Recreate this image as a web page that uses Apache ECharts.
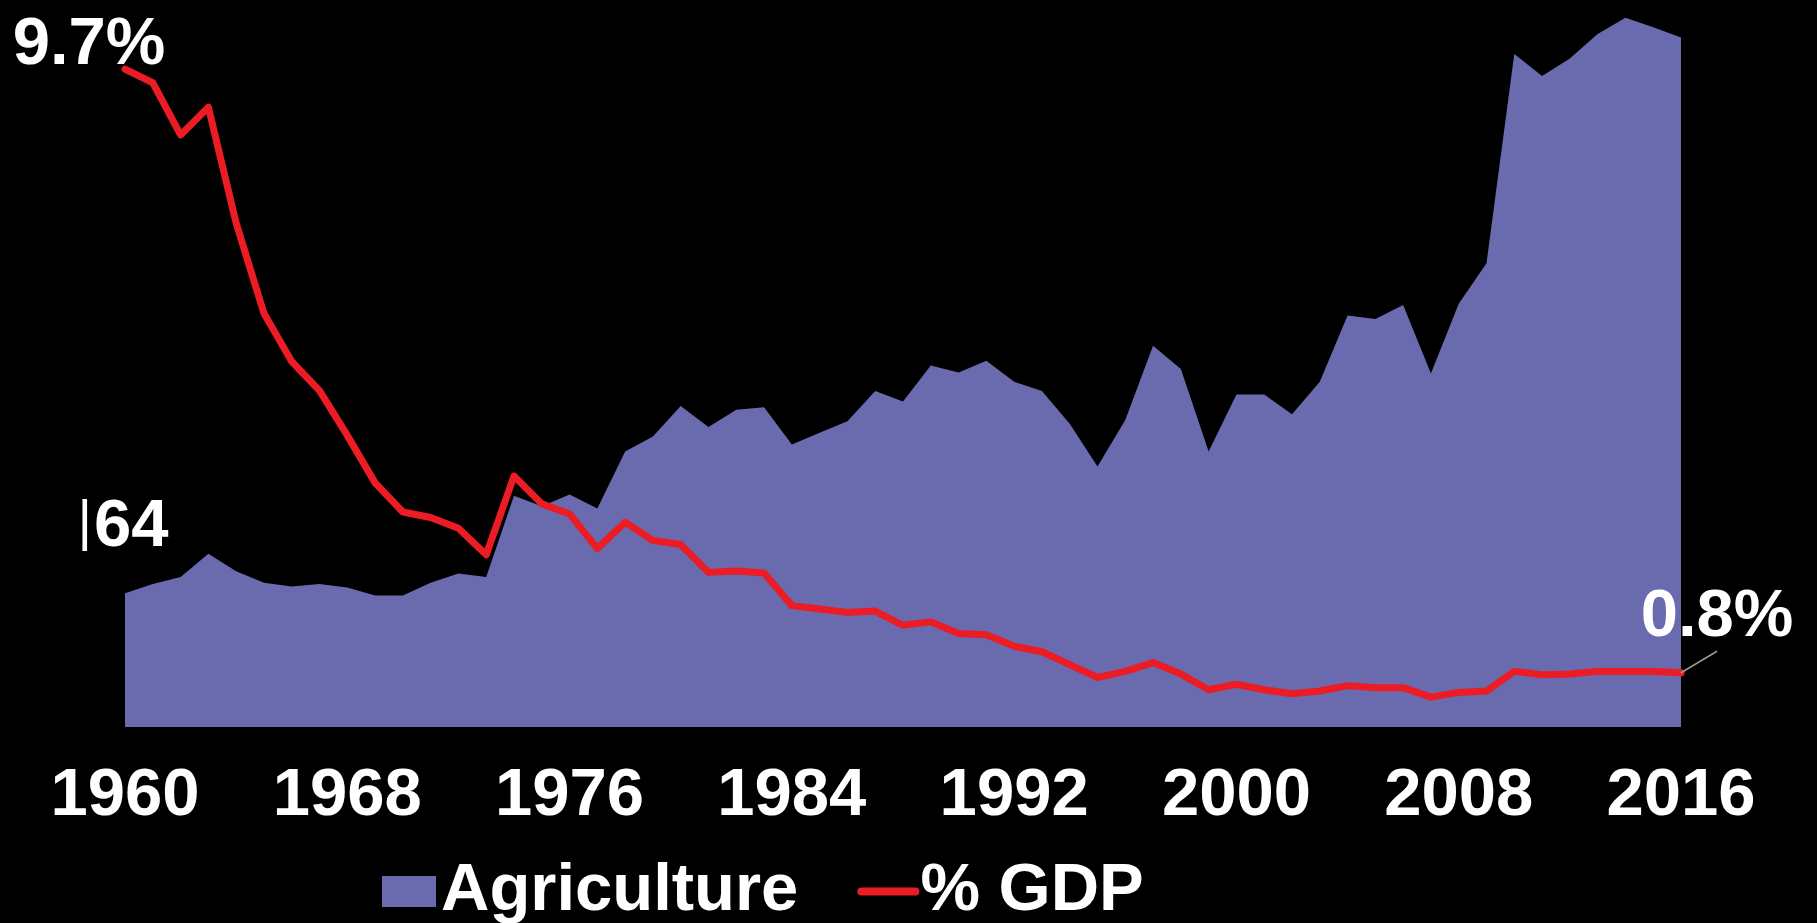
<!DOCTYPE html>
<html>
<head>
<meta charset="utf-8">
<style>
html,body{margin:0;padding:0;background:#000;}
#chart{width:1817px;height:923px;}
</style>
<script src="https://cdn.jsdelivr.net/npm/echarts@6/dist/echarts.min.js"></script>
</head>
<body>
<div id="chart"></div>
<script>
const years = [];
for (let y = 1960; y <= 2016; y++) years.push(String(y));

const agriculture = [
  64.0, 68.4, 71.8, 82.9, 74.6, 69.0, 67.3, 68.4, 66.8, 62.9,
  62.9, 69.0, 73.5, 71.8, 110.7, 105.7, 111.3, 104.6, 131.9, 139.1,
  153.6, 143.6, 151.9, 153.0, 135.2, 140.8, 146.4, 160.8, 155.8, 173.1,
  169.7, 175.3, 165.3, 160.8, 145.2, 124.7, 146.9, 182.5, 171.4, 131.9,
  159.2, 159.2, 149.7, 165.3, 197.0, 195.3, 202.0, 169.2, 202.6, 222.0,
  322.2, 311.6, 320.0, 331.7, 339.5, 335.0, 330.0
];

const gdpShare = [
  9.70, 9.50, 8.73, 9.14, 7.43, 6.10, 5.39, 4.96, 4.30, 3.60,
  3.17, 3.09, 2.93, 2.54, 3.70, 3.29, 3.14, 2.63, 3.02, 2.75,
  2.69, 2.28, 2.30, 2.27, 1.79, 1.74, 1.69, 1.71, 1.50, 1.55,
  1.38, 1.36, 1.19, 1.11, 0.92, 0.73, 0.82, 0.95, 0.78, 0.55,
  0.63, 0.55, 0.49, 0.53, 0.61, 0.58, 0.58, 0.44, 0.51, 0.53,
  0.82, 0.77, 0.78, 0.82, 0.82, 0.82, 0.80
];

const seriesNames = ['Agriculture', '% GDP'];

const FONT = '"Liberation Sans", Arial, Helvetica, sans-serif';
const AREA_COLOR = '#6a6aaf';
const RED = '#ec1c24';

const agriData = agriculture.map((v, i) => {
  if (i === 0) {
    return {
      value: v,
      label: {
        show: true,
        position: 'inside',
        offset: [-2, -66],
        formatter: '{bar||}{num|' + Math.round(v) + '}',
        rich: {
          bar: { fontFamily: FONT, fontWeight: 'normal', fontSize: 56, color: '#fff', padding: [0, 2, 8, 0] },
          num: { fontFamily: FONT, fontWeight: 'bold', fontSize: 67, color: '#fff' }
        }
      }
    };
  }
  return v;
});

const lastIdx = gdpShare.length - 1;
const gdpData = gdpShare.map((v, i) => {
  if (i === 0) {
    return {
      value: v,
      label: { show: true, position: 'inside', offset: [-36, -24], formatter: v.toFixed(1) + '%' }
    };
  }
  if (i === lastIdx) {
    return {
      value: v,
      label: { show: true, position: 'inside', offset: [36, -55], formatter: v.toFixed(1) + '%' },
      labelLine: { show: true, lineStyle: { color: '#9a9a9a', width: 1.5 } }
    };
  }
  return v;
});

const chart = echarts.init(document.getElementById('chart'), null, { renderer: 'canvas' });
chart.setOption({
  backgroundColor: '#000',
  animation: false,
  grid: { left: 125, right: 136, top: 0, bottom: 196, containLabel: false },
  legend: {
    left: 377,
    top: 853,
    itemWidth: 54,
    itemHeight: 31,
    itemGap: 59,
    textStyle: { color: '#fff', fontFamily: FONT, fontWeight: 'bold', fontSize: 67 },
    lineStyle: { width: 8, cap: 'round' },
    data: [
      { name: seriesNames[0], icon: 'rect' },
      { name: seriesNames[1], itemStyle: { opacity: 0 } }
    ]
  },
  xAxis: {
    type: 'category',
    data: years,
    boundaryGap: false,
    axisLine: { show: false },
    axisTick: { show: false },
    splitLine: { show: false },
    axisLabel: {
      interval: 7,
      margin: 36,
      color: '#fff',
      fontFamily: FONT,
      fontWeight: 'bold',
      fontSize: 67
    }
  },
  yAxis: [
    { type: 'value', min: 0, max: 348, show: false, splitLine: { show: false } },
    { type: 'value', min: 0, max: 10.72, show: false, splitLine: { show: false } }
  ],
  series: [
    {
      name: seriesNames[0],
      type: 'line',
      yAxisIndex: 0,
      data: agriData,
      symbol: 'circle',
      symbolSize: 0,
      showSymbol: true,
      itemStyle: { color: AREA_COLOR },
      lineStyle: { width: 0, color: AREA_COLOR },
      areaStyle: { color: AREA_COLOR, opacity: 1 },
      label: { show: false, color: '#fff', fontFamily: FONT, fontWeight: 'bold', fontSize: 67 },
      z: 1
    },
    {
      name: seriesNames[1],
      type: 'line',
      yAxisIndex: 1,
      data: gdpData,
      symbol: 'circle',
      symbolSize: 0,
      showSymbol: true,
      itemStyle: { color: RED },
      lineStyle: { width: 7, color: RED, cap: 'round', join: 'round' },
      label: { show: false, color: '#fff', fontFamily: FONT, fontWeight: 'bold', fontSize: 67 },
      z: 3
    }
  ]
});
</script>
</body>
</html>
